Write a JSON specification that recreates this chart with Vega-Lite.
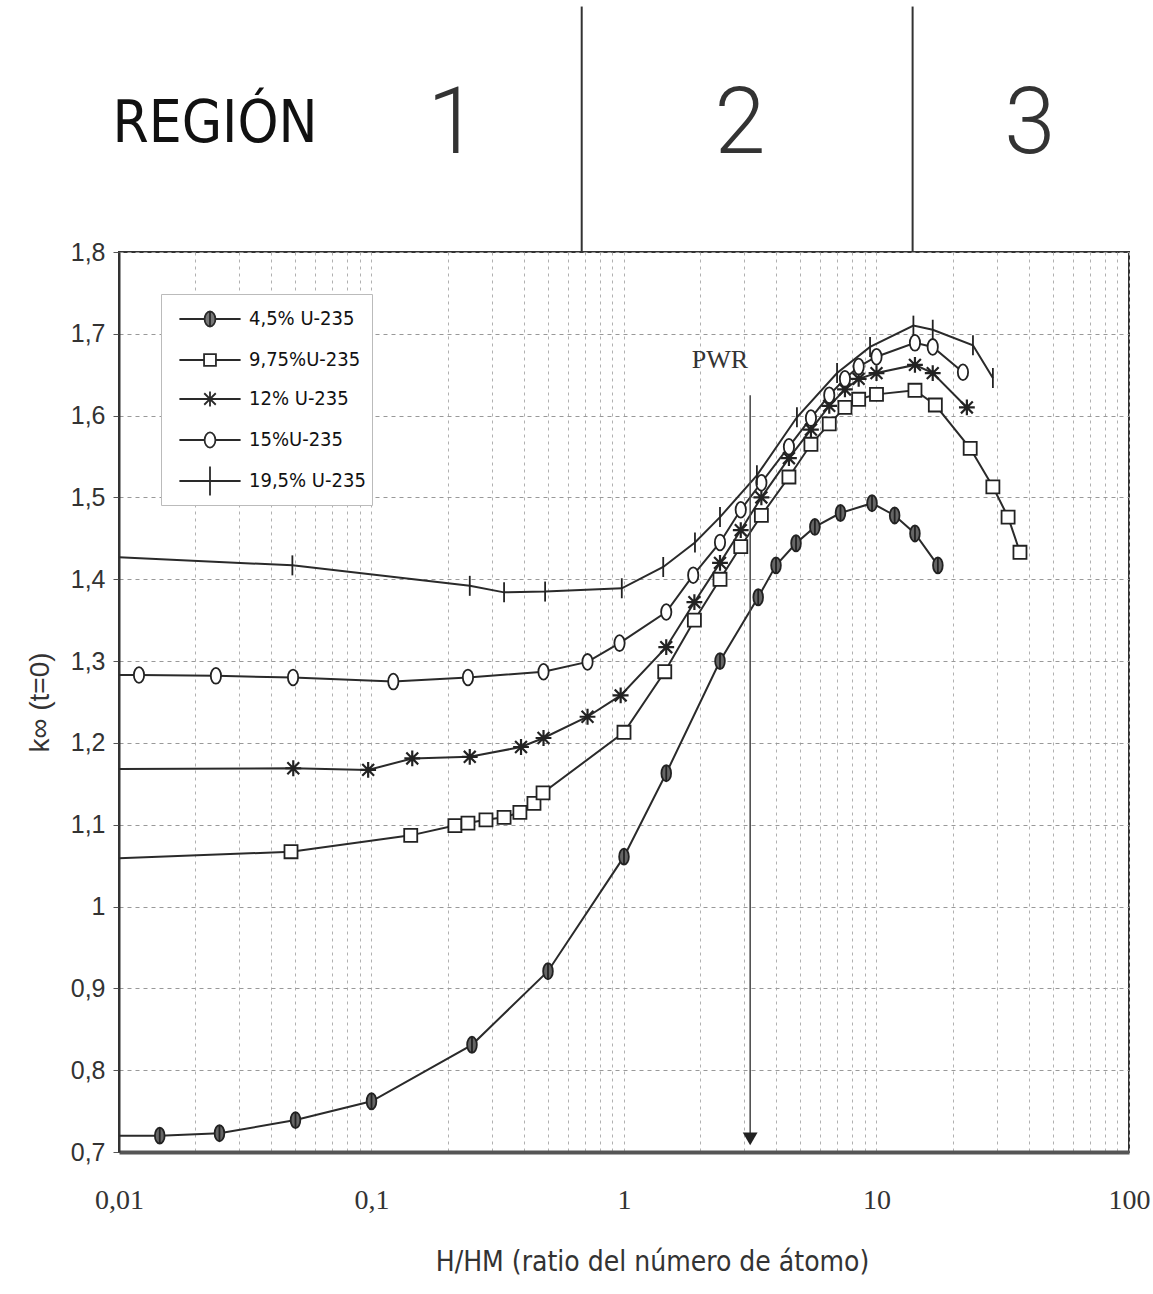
{
  "$schema": "https://vega.github.io/schema/vega-lite/v6.json",
  "autosize": {"type": "none"},
  "padding": {"left": 119, "top": 252, "right": 24, "bottom": 142},
  "width": 1010,
  "height": 900,
  "background": "white",
  "config": {
    "view": {"stroke": "#333", "strokeWidth": 2},
    "font": "Liberation Sans"
  },
  "datasets": {
    "curvas": [
      {"serie": "4,5% U-235", "x": 0.01, "k": 0.72, "m": 0},
      {"serie": "4,5% U-235", "x": 0.0145, "k": 0.72, "m": 1},
      {"serie": "4,5% U-235", "x": 0.025, "k": 0.723, "m": 1},
      {"serie": "4,5% U-235", "x": 0.05, "k": 0.739, "m": 1},
      {"serie": "4,5% U-235", "x": 0.1, "k": 0.762, "m": 1},
      {"serie": "4,5% U-235", "x": 0.25, "k": 0.831, "m": 1},
      {"serie": "4,5% U-235", "x": 0.5, "k": 0.921, "m": 1},
      {"serie": "4,5% U-235", "x": 1.0, "k": 1.061, "m": 1},
      {"serie": "4,5% U-235", "x": 1.47, "k": 1.163, "m": 1},
      {"serie": "4,5% U-235", "x": 2.4, "k": 1.30, "m": 1},
      {"serie": "4,5% U-235", "x": 3.4, "k": 1.378, "m": 1},
      {"serie": "4,5% U-235", "x": 4.0, "k": 1.417, "m": 1},
      {"serie": "4,5% U-235", "x": 4.8, "k": 1.444, "m": 1},
      {"serie": "4,5% U-235", "x": 5.7, "k": 1.464, "m": 1},
      {"serie": "4,5% U-235", "x": 7.2, "k": 1.481, "m": 1},
      {"serie": "4,5% U-235", "x": 9.6, "k": 1.493, "m": 1},
      {"serie": "4,5% U-235", "x": 11.8, "k": 1.478, "m": 1},
      {"serie": "4,5% U-235", "x": 14.2, "k": 1.456, "m": 1},
      {"serie": "4,5% U-235", "x": 17.5, "k": 1.417, "m": 1},

      {"serie": "9,75%U-235", "x": 0.01, "k": 1.059, "m": 0},
      {"serie": "9,75%U-235", "x": 0.048, "k": 1.067, "m": 1},
      {"serie": "9,75%U-235", "x": 0.143, "k": 1.087, "m": 1},
      {"serie": "9,75%U-235", "x": 0.214, "k": 1.099, "m": 1},
      {"serie": "9,75%U-235", "x": 0.241, "k": 1.102, "m": 1},
      {"serie": "9,75%U-235", "x": 0.284, "k": 1.106, "m": 1},
      {"serie": "9,75%U-235", "x": 0.335, "k": 1.109, "m": 1},
      {"serie": "9,75%U-235", "x": 0.387, "k": 1.115, "m": 1},
      {"serie": "9,75%U-235", "x": 0.44, "k": 1.126, "m": 1},
      {"serie": "9,75%U-235", "x": 0.478, "k": 1.139, "m": 1},
      {"serie": "9,75%U-235", "x": 1.0, "k": 1.213, "m": 1},
      {"serie": "9,75%U-235", "x": 1.45, "k": 1.287, "m": 1},
      {"serie": "9,75%U-235", "x": 1.9, "k": 1.35, "m": 1},
      {"serie": "9,75%U-235", "x": 2.4, "k": 1.40, "m": 1},
      {"serie": "9,75%U-235", "x": 2.9, "k": 1.44, "m": 1},
      {"serie": "9,75%U-235", "x": 3.5, "k": 1.478, "m": 1},
      {"serie": "9,75%U-235", "x": 4.5, "k": 1.525, "m": 1},
      {"serie": "9,75%U-235", "x": 5.5, "k": 1.565, "m": 1},
      {"serie": "9,75%U-235", "x": 6.5, "k": 1.59, "m": 1},
      {"serie": "9,75%U-235", "x": 7.5, "k": 1.61, "m": 1},
      {"serie": "9,75%U-235", "x": 8.5, "k": 1.62, "m": 1},
      {"serie": "9,75%U-235", "x": 10.0, "k": 1.626, "m": 1},
      {"serie": "9,75%U-235", "x": 14.2, "k": 1.631, "m": 1},
      {"serie": "9,75%U-235", "x": 17.1, "k": 1.613, "m": 1},
      {"serie": "9,75%U-235", "x": 23.5, "k": 1.56, "m": 1},
      {"serie": "9,75%U-235", "x": 28.9, "k": 1.513, "m": 1},
      {"serie": "9,75%U-235", "x": 33.2, "k": 1.476, "m": 1},
      {"serie": "9,75%U-235", "x": 37.0, "k": 1.433, "m": 1},

      {"serie": "12% U-235", "x": 0.01, "k": 1.168, "m": 0},
      {"serie": "12% U-235", "x": 0.049, "k": 1.169, "m": 1},
      {"serie": "12% U-235", "x": 0.097, "k": 1.167, "m": 1},
      {"serie": "12% U-235", "x": 0.145, "k": 1.181, "m": 1},
      {"serie": "12% U-235", "x": 0.245, "k": 1.183, "m": 1},
      {"serie": "12% U-235", "x": 0.391, "k": 1.195, "m": 1},
      {"serie": "12% U-235", "x": 0.48, "k": 1.206, "m": 1},
      {"serie": "12% U-235", "x": 0.717, "k": 1.232, "m": 1},
      {"serie": "12% U-235", "x": 0.97, "k": 1.258, "m": 1},
      {"serie": "12% U-235", "x": 1.47, "k": 1.317, "m": 1},
      {"serie": "12% U-235", "x": 1.9, "k": 1.372, "m": 1},
      {"serie": "12% U-235", "x": 2.4, "k": 1.42, "m": 1},
      {"serie": "12% U-235", "x": 2.9, "k": 1.46, "m": 1},
      {"serie": "12% U-235", "x": 3.5, "k": 1.50, "m": 1},
      {"serie": "12% U-235", "x": 4.5, "k": 1.548, "m": 1},
      {"serie": "12% U-235", "x": 5.5, "k": 1.583, "m": 1},
      {"serie": "12% U-235", "x": 6.5, "k": 1.612, "m": 1},
      {"serie": "12% U-235", "x": 7.5, "k": 1.632, "m": 1},
      {"serie": "12% U-235", "x": 8.5, "k": 1.645, "m": 1},
      {"serie": "12% U-235", "x": 10.0, "k": 1.652, "m": 1},
      {"serie": "12% U-235", "x": 14.2, "k": 1.662, "m": 1},
      {"serie": "12% U-235", "x": 16.7, "k": 1.652, "m": 1},
      {"serie": "12% U-235", "x": 22.8, "k": 1.61, "m": 1},

      {"serie": "15%U-235", "x": 0.01, "k": 1.283, "m": 0},
      {"serie": "15%U-235", "x": 0.012, "k": 1.283, "m": 1},
      {"serie": "15%U-235", "x": 0.0242, "k": 1.282, "m": 1},
      {"serie": "15%U-235", "x": 0.0489, "k": 1.28, "m": 1},
      {"serie": "15%U-235", "x": 0.122, "k": 1.275, "m": 1},
      {"serie": "15%U-235", "x": 0.241, "k": 1.28, "m": 1},
      {"serie": "15%U-235", "x": 0.48, "k": 1.287, "m": 1},
      {"serie": "15%U-235", "x": 0.717, "k": 1.299, "m": 1},
      {"serie": "15%U-235", "x": 0.96, "k": 1.322, "m": 1},
      {"serie": "15%U-235", "x": 1.47, "k": 1.36, "m": 1},
      {"serie": "15%U-235", "x": 1.88, "k": 1.405, "m": 1},
      {"serie": "15%U-235", "x": 2.4, "k": 1.445, "m": 1},
      {"serie": "15%U-235", "x": 2.9, "k": 1.485, "m": 1},
      {"serie": "15%U-235", "x": 3.5, "k": 1.518, "m": 1},
      {"serie": "15%U-235", "x": 4.5, "k": 1.562, "m": 1},
      {"serie": "15%U-235", "x": 5.5, "k": 1.597, "m": 1},
      {"serie": "15%U-235", "x": 6.5, "k": 1.625, "m": 1},
      {"serie": "15%U-235", "x": 7.5, "k": 1.645, "m": 1},
      {"serie": "15%U-235", "x": 8.5, "k": 1.66, "m": 1},
      {"serie": "15%U-235", "x": 10.0, "k": 1.672, "m": 1},
      {"serie": "15%U-235", "x": 14.2, "k": 1.689, "m": 1},
      {"serie": "15%U-235", "x": 16.7, "k": 1.684, "m": 1},
      {"serie": "15%U-235", "x": 22.0, "k": 1.653, "m": 1},

      {"serie": "19,5% U-235", "x": 0.01, "k": 1.427, "m": 0},
      {"serie": "19,5% U-235", "x": 0.0486, "k": 1.417, "m": 1},
      {"serie": "19,5% U-235", "x": 0.245, "k": 1.392, "m": 1},
      {"serie": "19,5% U-235", "x": 0.335, "k": 1.384, "m": 1},
      {"serie": "19,5% U-235", "x": 0.487, "k": 1.385, "m": 1},
      {"serie": "19,5% U-235", "x": 0.98, "k": 1.389, "m": 1},
      {"serie": "19,5% U-235", "x": 1.43, "k": 1.415, "m": 1},
      {"serie": "19,5% U-235", "x": 1.91, "k": 1.445, "m": 1},
      {"serie": "19,5% U-235", "x": 2.4, "k": 1.476, "m": 1},
      {"serie": "19,5% U-235", "x": 3.36, "k": 1.527, "m": 1},
      {"serie": "19,5% U-235", "x": 4.84, "k": 1.598, "m": 1},
      {"serie": "19,5% U-235", "x": 6.98, "k": 1.652, "m": 1},
      {"serie": "19,5% U-235", "x": 9.43, "k": 1.684, "m": 1},
      {"serie": "19,5% U-235", "x": 14.0, "k": 1.71, "m": 1},
      {"serie": "19,5% U-235", "x": 16.7, "k": 1.705, "m": 1},
      {"serie": "19,5% U-235", "x": 24.1, "k": 1.686, "m": 1},
      {"serie": "19,5% U-235", "x": 28.9, "k": 1.646, "m": 1}
    ],
    "pwr": [{"etiqueta": "PWR", "x": 3.16, "k0": 0.716, "k1": 1.625, "xt": 2.4, "kt": 1.668}],
    "divisiones": [{"x": 0.68, "k0": 1.8, "k1": 2.1}, {"x": 13.9, "k0": 1.8, "k1": 2.1}],
    "regiones": [
      {"texto": "REGIÓN", "x": 0.024, "k": 1.955, "tipo": "a"},
      {"texto": "1", "x": 0.21, "k": 1.955, "tipo": "b"},
      {"texto": "2", "x": 2.88, "k": 1.955, "tipo": "b"},
      {"texto": "3", "x": 40.5, "k": 1.955, "tipo": "b"}
    ]
  },
  "layer": [
    {
      "data": {"name": "curvas"},
      "mark": {"type": "line", "strokeWidth": 2},
      "encoding": {
        "x": {
          "field": "x", "type": "quantitative",
          "scale": {"type": "log", "domain": [0.01, 100], "nice": false},
          "axis": {
            "values": [0.01,0.02,0.03,0.04,0.05,0.06,0.07,0.08,0.09,0.1,0.2,0.3,0.4,0.5,0.6,0.7,0.8,0.9,1,2,3,4,5,6,7,8,9,10,20,30,40,50,60,70,80,90,100],
            "labelExpr": "datum.value == 0.01 ? '0,01' : datum.value == 0.1 ? '0,1' : datum.value == 1 ? '1' : datum.value == 10 ? '10' : datum.value == 100 ? '100' : ''",
            "labelOverlap": false, "labelFlush": false,
            "ticks": false,
            "grid": true, "gridDash": [3, 4], "gridColor": "#b0b0b0", "gridWidth": 1,
            "domain": true, "domainColor": "#555", "domainWidth": 4,
            "labelFont": "Liberation Serif", "labelFontSize": 28, "labelColor": "#333", "labelPadding": 34,
            "title": "H/HM (ratio del número de átomo)",
            "titleFont": "DejaVu Sans Condensed, Liberation Sans Narrow, sans-serif",
            "titleFontSize": 28, "titleFontWeight": "normal", "titleColor": "#333", "titlePadding": 34,
            "titleX": 533
          }
        },
        "y": {
          "field": "k", "type": "quantitative",
          "scale": {"domain": [0.7, 1.8], "nice": false, "zero": false},
          "axis": {
            "values": [0.7,0.8,0.9,1,1.1,1.2,1.3,1.4,1.5,1.6,1.7,1.8],
            "labelExpr": "datum.value == 1 ? '1' : replace(format(datum.value, '.1f'), '.', ',')",
            "grid": true, "gridDash": [4, 4], "gridColor": "#999", "gridWidth": 1,
            "ticks": true, "tickSize": 6, "tickColor": "#555",
            "domain": true, "domainColor": "#333", "domainWidth": 2,
            "labelFont": "Liberation Sans", "labelFontSize": 25, "labelColor": "#333", "labelPadding": 8,
            "title": "k∞ (t=0)", "titleFont": "Liberation Sans", "titleFontSize": 28,
            "titleFontWeight": "normal", "titleColor": "#333", "titlePadding": 16
          }
        },
        "color": {
          "field": "serie", "type": "nominal",
          "scale": {
            "domain": ["4,5% U-235", "9,75%U-235", "12% U-235", "15%U-235", "19,5% U-235"],
            "range": ["#2a2a2a", "#2a2a2a", "#2a2a2a", "#2a2a2a", "#2a2a2a"]
          },
          "legend": {
            "orient": "top-left", "offset": 42, "title": null,
            "padding": 6, "rowPadding": 10,
            "strokeColor": "#bbb", "fillColor": "white",
            "labelFont": "DejaVu Sans Condensed, Liberation Sans Narrow, sans-serif",
            "labelFontSize": 20, "labelColor": "#111",
            "symbolSize": 1296, "symbolOffset": 24, "labelOffset": 20,
            "symbolStrokeWidth": 1.8,
            "encode": {
              "symbols": {
                "enter": {
                  "shape": {"signal": "datum.value === '4,5% U-235' ? 'M-1.7,0L-0.3,0M0.3,0L1.7,0M0,-0.42A0.3,0.42 0 1,1 0,0.42A0.3,0.42 0 1,1 0,-0.42ZM0,-0.42L0,0.42' : datum.value === '9,75%U-235' ? 'M-1.7,0L-0.33,0M0.33,0L1.7,0M-0.33,-0.33L0.33,-0.33L0.33,0.33L-0.33,0.33Z' : datum.value === '12% U-235' ? 'M-1.7,0L1.7,0M0,-0.42L0,0.42M-0.32,-0.32L0.32,0.32M-0.32,0.32L0.32,-0.32' : datum.value === '15%U-235' ? 'M-1.7,0L-0.3,0M0.3,0L1.7,0M0,-0.42A0.3,0.42 0 1,1 0,0.42A0.3,0.42 0 1,1 0,-0.42Z' : 'M-1.7,0L1.7,0M0,-0.8L0,0.8'"},
                  "fill": {"signal": "datum.value === '4,5% U-235' ? '#777' : 'white'"}
                },
                "update": {
                  "shape": {"signal": "datum.value === '4,5% U-235' ? 'M-1.7,0L-0.3,0M0.3,0L1.7,0M0,-0.42A0.3,0.42 0 1,1 0,0.42A0.3,0.42 0 1,1 0,-0.42ZM0,-0.42L0,0.42' : datum.value === '9,75%U-235' ? 'M-1.7,0L-0.33,0M0.33,0L1.7,0M-0.33,-0.33L0.33,-0.33L0.33,0.33L-0.33,0.33Z' : datum.value === '12% U-235' ? 'M-1.7,0L1.7,0M0,-0.42L0,0.42M-0.32,-0.32L0.32,0.32M-0.32,0.32L0.32,-0.32' : datum.value === '15%U-235' ? 'M-1.7,0L-0.3,0M0.3,0L1.7,0M0,-0.42A0.3,0.42 0 1,1 0,0.42A0.3,0.42 0 1,1 0,-0.42Z' : 'M-1.7,0L1.7,0M0,-0.8L0,0.8'"},
                  "fill": {"signal": "datum.value === '4,5% U-235' ? '#777' : 'white'"},
                  "stroke": {"value": "#222"},
                  "strokeWidth": {"value": 1.8},
                  "size": {"value": 1296},
                  "opacity": {"value": 1}
                }
              }
            }
          }
        },
        "detail": {"field": "serie"}
      }
    },
    {
      "data": {"name": "curvas"},
      "transform": [{"filter": "datum.m == 1 && datum.serie === '4,5% U-235'"}],
      "mark": {"type": "point", "shape": "M0,-1A0.6,1 0 1,1 0,1A0.6,1 0 1,1 0,-1ZM0,-1L0,1", "size": 260, "filled": false, "fill": "#666", "stroke": "#222", "strokeWidth": 1.8, "opacity": 1},
      "encoding": {
        "x": {"field": "x", "type": "quantitative"},
        "y": {"field": "k", "type": "quantitative"}
      }
    },
    {
      "data": {"name": "curvas"},
      "transform": [{"filter": "datum.m == 1 && datum.serie === '9,75%U-235'"}],
      "mark": {"type": "point", "shape": "square", "size": 170, "filled": false, "fill": "white", "stroke": "#222", "strokeWidth": 1.8, "opacity": 1},
      "encoding": {
        "x": {"field": "x", "type": "quantitative"},
        "y": {"field": "k", "type": "quantitative"}
      }
    },
    {
      "data": {"name": "curvas"},
      "transform": [{"filter": "datum.m == 1 && datum.serie === '12% U-235'"}],
      "mark": {"type": "point", "shape": "M-1,0L1,0M0,-1L0,1M-0.75,-0.75L0.75,0.75M-0.75,0.75L0.75,-0.75", "size": 250, "filled": false, "stroke": "#222", "strokeWidth": 2.2, "opacity": 1},
      "encoding": {
        "x": {"field": "x", "type": "quantitative"},
        "y": {"field": "k", "type": "quantitative"}
      }
    },
    {
      "data": {"name": "curvas"},
      "transform": [{"filter": "datum.m == 1 && datum.serie === '15%U-235'"}],
      "mark": {"type": "point", "shape": "M0,-1A0.65,1 0 1,1 0,1A0.65,1 0 1,1 0,-1Z", "size": 250, "filled": false, "fill": "white", "stroke": "#222", "strokeWidth": 1.8, "opacity": 1},
      "encoding": {
        "x": {"field": "x", "type": "quantitative"},
        "y": {"field": "k", "type": "quantitative"}
      }
    },
    {
      "data": {"name": "curvas"},
      "transform": [{"filter": "datum.m == 1 && datum.serie === '19,5% U-235'"}],
      "mark": {"type": "point", "shape": "M0,-1L0,1", "size": 400, "filled": false, "stroke": "#222", "strokeWidth": 1.8, "opacity": 1},
      "encoding": {
        "x": {"field": "x", "type": "quantitative"},
        "y": {"field": "k", "type": "quantitative"}
      }
    },
    {
      "data": {"name": "pwr"},
      "mark": {"type": "rule", "color": "#444", "strokeWidth": 1.5},
      "encoding": {
        "x": {"field": "x", "type": "quantitative"},
        "y": {"field": "k0", "type": "quantitative"},
        "y2": {"field": "k1"}
      }
    },
    {
      "data": {"name": "pwr"},
      "mark": {"type": "point", "shape": "triangle-down", "filled": true, "color": "#222", "size": 220, "opacity": 1},
      "encoding": {
        "x": {"field": "x", "type": "quantitative"},
        "y": {"field": "k0", "type": "quantitative"}
      }
    },
    {
      "data": {"name": "pwr"},
      "mark": {"type": "text", "font": "Liberation Serif", "fontSize": 26, "color": "#333"},
      "encoding": {
        "x": {"field": "xt", "type": "quantitative"},
        "y": {"field": "kt", "type": "quantitative"},
        "text": {"field": "etiqueta"}
      }
    },
    {
      "data": {"name": "divisiones"},
      "mark": {"type": "rule", "color": "#333", "strokeWidth": 2, "clip": false},
      "encoding": {
        "x": {"field": "x", "type": "quantitative"},
        "y": {"field": "k0", "type": "quantitative"},
        "y2": {"field": "k1"}
      }
    },
    {
      "data": {"name": "regiones"},
      "transform": [{"filter": "datum.tipo == 'a'"}],
      "mark": {"type": "text", "font": "DejaVu Sans Condensed, Liberation Sans Narrow, sans-serif", "fontSize": 58, "color": "#111", "clip": false},
      "encoding": {
        "x": {"field": "x", "type": "quantitative"},
        "y": {"field": "k", "type": "quantitative"},
        "text": {"field": "texto"}
      }
    },
    {
      "data": {"name": "regiones"},
      "transform": [{"filter": "datum.tipo == 'b'"}],
      "mark": {"type": "text", "font": "Roboto", "fontSize": 92, "fontWeight": 300, "color": "#333", "clip": false},
      "encoding": {
        "x": {"field": "x", "type": "quantitative"},
        "y": {"field": "k", "type": "quantitative"},
        "text": {"field": "texto"}
      }
    }
  ]
}
